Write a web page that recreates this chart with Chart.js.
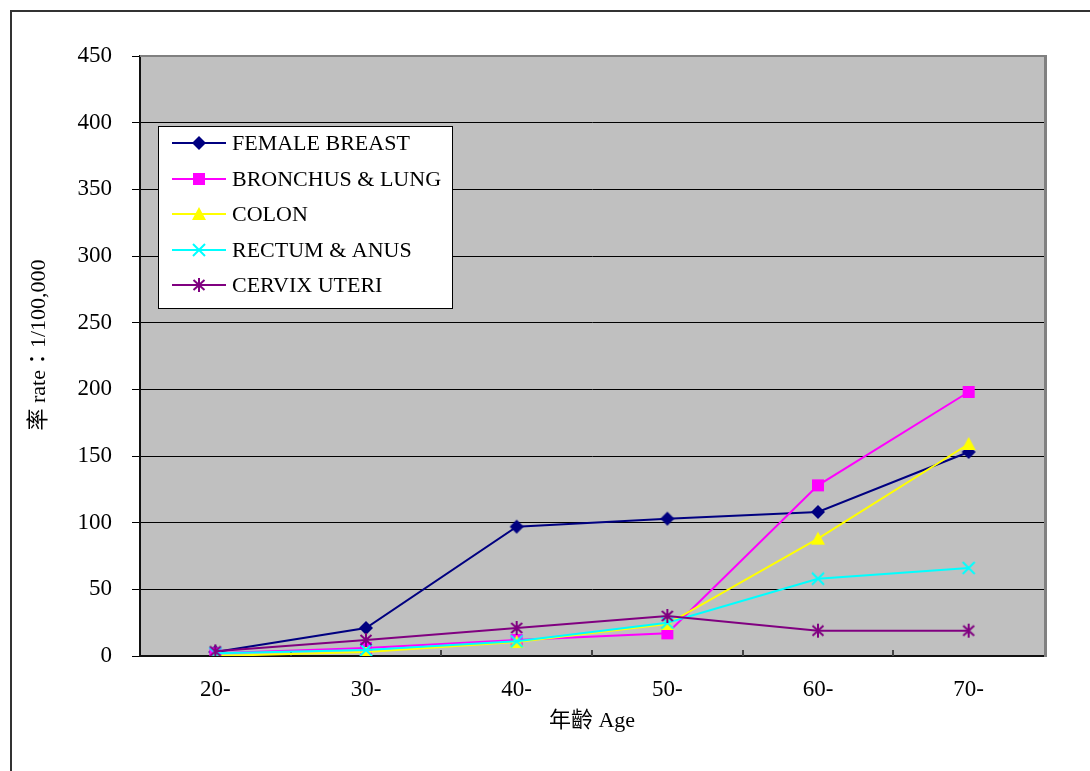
<!DOCTYPE html>
<html>
<head>
<meta charset="utf-8">
<script src="https://cdn.jsdelivr.net/npm/chart.js@4.4.1/dist/chart.umd.min.js"></script>
<style>
  html, body { margin: 0; padding: 0; background: #fff; }
  canvas { display: block; }
</style>
</head>
<body>
<canvas id="chart" width="1090" height="771"></canvas>
<script>
// Age groups and incidence rates per 100,000
const ageGroups = ['20-', '30-', '40-', '50-', '60-', '70-'];
const femaleBreast   = [3, 21, 97, 103, 108, 153];
const bronchusLung   = [2, 6, 12, 17, 128, 198];
const colon          = [0, 3, 10.5, 24, 88, 159];
const rectumAnus     = [2, 4.5, 11, 25, 58, 66];
const cervixUteri    = [3.5, 12, 21, 30, 19, 19];
const seriesNames = ['FEMALE BREAST', 'BRONCHUS & LUNG', 'COLON', 'RECTUM & ANUS', 'CERVIX UTERI'];
const yMin = 0, yMax = 450, yStep = 50;
const xTitle = '年齡 Age';
const yTitle = '率 rate：1/100,000';

const SERIF = '"Liberation Serif", "Times New Roman", "Noto Sans CJK TC", serif';

// Marker glyphs rendered once and reused by the lines and the legend
function makeMarker(kind, color) {
  const s = 16, m = s / 2;
  const c = document.createElement('canvas');
  c.width = s; c.height = s;
  const g = c.getContext('2d');
  g.fillStyle = color; g.strokeStyle = color; g.lineWidth = 2;
  g.beginPath();
  if (kind === 'diamond') {
    g.moveTo(m, 1); g.lineTo(s - 1, m); g.lineTo(m, s - 1); g.lineTo(1, m); g.closePath(); g.fill();
  } else if (kind === 'square') {
    g.fillRect(2, 2, 12, 12);
  } else if (kind === 'triangle') {
    g.moveTo(m, 1); g.lineTo(s - 1, s - 2); g.lineTo(1, s - 2); g.closePath(); g.fill();
  } else if (kind === 'x') {
    g.moveTo(2, 2); g.lineTo(14, 14); g.moveTo(14, 2); g.lineTo(2, 14); g.stroke();
  } else if (kind === 'star') {
    g.moveTo(m, 1); g.lineTo(m, 15);
    g.moveTo(2.5, 3); g.lineTo(13.5, 13); g.moveTo(13.5, 3); g.lineTo(2.5, 13); g.stroke();
  }
  return c;
}

const colors = ['#000080', '#FF00FF', '#FFFF00', '#00FFFF', '#800080'];
const markers = [
  makeMarker('diamond', colors[0]),
  makeMarker('square', colors[1]),
  makeMarker('triangle', colors[2]),
  makeMarker('x', colors[3]),
  makeMarker('star', colors[4])
];
const values = [femaleBreast, bronchusLung, colon, rectumAnus, cervixUteri];

const datasets = values.map((v, i) => ({
  label: seriesNames[i],
  data: v,
  borderColor: colors[i],
  backgroundColor: colors[i],
  borderWidth: 2,
  pointStyle: markers[i],
  pointRadius: 8,
  fill: false,
  tension: 0,
  order: 5 - i
}));

// Page frame, grey plot background and plot edges
const frame = {
  id: 'frame',
  beforeDraw(chart) {
    const { ctx, chartArea: a } = chart;
    ctx.save();
    ctx.fillStyle = '#fff';
    ctx.fillRect(0, 0, chart.width, chart.height);
    ctx.strokeStyle = '#333';
    ctx.lineWidth = 2;
    ctx.strokeRect(11, 11, chart.width + 20, chart.height + 20);
    ctx.fillStyle = '#C0C0C0';
    ctx.fillRect(a.left, a.top, a.right - a.left, a.bottom - a.top);
    ctx.restore();
  },
  beforeDatasetsDraw(chart) {
    const { ctx, chartArea: a, scales } = chart;
    const xs = scales.x;
    ctx.save();
    // grey top and right edges of the plot
    ctx.fillStyle = '#808080';
    ctx.fillRect(a.left, a.top - 1, a.right - a.left + 2, 2);
    ctx.fillRect(a.right, a.top - 1, 3, a.bottom - a.top + 2);
    // short inward tick marks between age groups
    ctx.strokeStyle = '#444';
    ctx.lineWidth = 2;
    ctx.beginPath();
    for (let i = 1; i < ageGroups.length; i++) {
      const x = Math.round((xs.getPixelForValue(i - 1) + xs.getPixelForValue(i)) / 2);
      ctx.moveTo(x, a.bottom);
      ctx.lineTo(x, a.bottom - 6);
    }
    ctx.stroke();
    ctx.restore();
  }
};

// Vertical axis title
const yTitlePlugin = {
  id: 'yTitle',
  afterDraw(chart) {
    const { ctx } = chart;
    ctx.save();
    ctx.translate(39, 345);
    ctx.rotate(-Math.PI / 2);
    ctx.font = '22px ' + SERIF;
    ctx.fillStyle = '#000';
    ctx.textAlign = 'center';
    ctx.textBaseline = 'middle';
    ctx.fillText(yTitle, 0, 0);
    ctx.restore();
  }
};

// Boxed legend inside the plot, upper left
const boxLegend = {
  id: 'boxLegend',
  afterDraw(chart) {
    const { ctx, chartArea: a } = chart;
    const left = a.left + 18, top = a.top + 70, w = 294, h = 182;
    const rowH = 35.5;
    ctx.save();
    ctx.fillStyle = '#fff';
    ctx.fillRect(left, top, w, h);
    ctx.strokeStyle = '#000';
    ctx.lineWidth = 1;
    ctx.strokeRect(left + 0.5, top + 0.5, w, h);
    ctx.font = '22px ' + SERIF;
    ctx.textBaseline = 'middle';
    ctx.textAlign = 'left';
    chart.data.datasets.forEach((ds, i) => {
      const y = Math.round(top + 17 + i * rowH);
      ctx.strokeStyle = ds.borderColor;
      ctx.lineWidth = 2;
      ctx.beginPath();
      ctx.moveTo(left + 14, y);
      ctx.lineTo(left + 68, y);
      ctx.stroke();
      const img = markers[i];
      ctx.drawImage(img, left + 41 - img.width / 2, y - img.height / 2);
      ctx.fillStyle = '#000';
      ctx.fillText(ds.label, left + 74, y + 1);
    });
    ctx.restore();
  }
};

new Chart(document.getElementById('chart'), {
  type: 'line',
  data: { labels: ageGroups, datasets },
  plugins: [frame, yTitlePlugin, boxLegend],
  options: {
    responsive: false,
    animation: false,
    devicePixelRatio: 1,
    layout: { padding: { left: 22, top: 56, right: 46, bottom: 33 } },
    plugins: { legend: { display: false }, tooltip: { enabled: false } },
    scales: {
      x: {
        type: 'category',
        offset: true,
        afterFit(scale) { scale.height = 82; },
        grid: { drawOnChartArea: false, drawTicks: false },
        border: { display: true, color: '#111', width: 2 },
        ticks: { color: '#000', font: { family: SERIF, size: 23 }, padding: 20, maxRotation: 0 },
        title: {
          display: true, text: xTitle, color: '#000',
          font: { family: SERIF, size: 22 }, padding: { top: 4, bottom: 4 }
        }
      },
      y: {
        min: yMin,
        max: yMax,
        afterFit(scale) { scale.width = 118; },
        grid: {
          color: ctx => (ctx.tick && ctx.tick.value === yMax ? '#808080' : '#000'),
          lineWidth: 1,
          tickLength: 8,
          tickColor: '#000'
        },
        border: { display: true, color: '#111', width: 2 },
        ticks: { stepSize: yStep, color: '#000', font: { family: SERIF, size: 23 }, padding: 20 }
      }
    }
  }
});
</script>
</body>
</html>
